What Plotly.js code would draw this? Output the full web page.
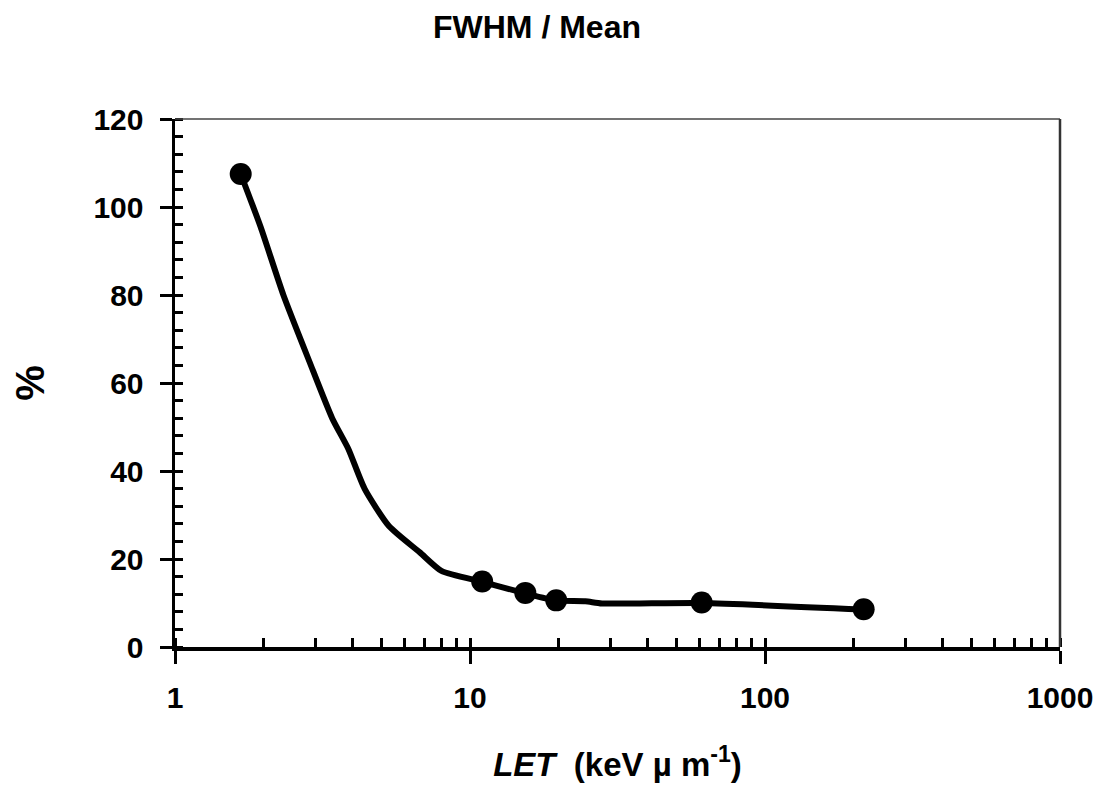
<!DOCTYPE html>
<html>
<head>
<meta charset="utf-8">
<script src="https://cdn.plot.ly/plotly-3.0.1.min.js"></script>
<style>html,body{margin:0;padding:0;background:#fff;}#chart{width:1110px;height:794px;}</style>
</head>
<body>
<div id="chart"></div>
<script>
// Measured points: LET (keV/um) vs FWHM/Mean (%)
const letValues = [1.67, 11.0, 15.4, 19.6, 61, 216];
const fwhmValues = [107.5, 14.9, 12.3, 10.6, 10.1, 8.6];

// Smooth guide curve
const curveLet = [1.67, 1.95, 2.33, 2.85, 3.41, 3.87, 4.39, 5.31, 6.76, 8.0, 11.0, 15.4, 19.5, 24.6, 28, 61, 216];
const curvePct = [107.5, 95.5, 80, 65, 52, 45, 36, 27.5, 21.5, 17.3, 14.8, 12.2, 10.6, 10.4, 9.9, 10.0, 8.5];

const xTickVals = [1, 10, 100, 1000];
const xTickText = ['1', '10', '100', '1000'];
const yTickVals = [0, 20, 40, 60, 80, 100, 120];

const font = 'Liberation Sans, Arial, sans-serif';

const traces = [
  {
    x: curveLet, y: curvePct, mode: 'lines', type: 'scatter',
    line: {color: '#000', width: 6, shape: 'spline', smoothing: 0.6},
    hoverinfo: 'skip', showlegend: false
  },
  {
    x: letValues, y: fwhmValues, mode: 'markers', type: 'scatter',
    marker: {color: '#000', size: 22, symbol: 'circle'},
    showlegend: false
  }
];

const layout = {
  width: 1110, height: 794,
  margin: {l: 175, r: 50, t: 119, b: 147},
  paper_bgcolor: '#fff', plot_bgcolor: '#fff',
  font: {family: font, color: '#000'},
  title: {
    text: '<b>FWHM / Mean</b>',
    font: {family: font, size: 32, color: '#000'},
    x: 537 / 1110, xref: 'container', xanchor: 'center',
    y: 1 - 27 / 794, yref: 'container', yanchor: 'middle'
  },
  xaxis: {
    type: 'log', range: [0, 3],
    tickvals: xTickVals, ticktext: xTickText,
    showgrid: false, zeroline: false,
    showline: true, linecolor: '#000', linewidth: 3.5,
    ticks: 'outside', ticklen: 13, tickwidth: 3, tickcolor: '#000',
    ticklabelstandoff: 8,
    tickfont: {family: font, size: 30, color: '#000', weight: 'bold'},
    minor: {dtick: 'D1', ticks: 'inside', ticklen: 9, tickwidth: 3, tickcolor: '#000', showgrid: false},
    title: {
      text: '<b><i>LET</i>  (keV µ m<sup>-1</sup>)</b>',
      font: {family: font, size: 33, color: '#000'},
      standoff: 41
    }
  },
  yaxis: {
    range: [0, 120],
    tickvals: yTickVals,
    showgrid: false, zeroline: false,
    showline: true, linecolor: '#000', linewidth: 3.5,
    ticks: 'outside', ticklen: 12, tickwidth: 3, tickcolor: '#000',
    ticklabelstandoff: 10,
    tickfont: {family: font, size: 30, color: '#000', weight: 'bold'},
    minor: {dtick: 4, ticks: 'inside', ticklen: 8, tickwidth: 3, tickcolor: '#000', showgrid: false},
    title: {
      text: '<b>%</b>',
      font: {family: font, size: 40, color: '#000'},
      standoff: 37
    }
  },
  shapes: [
    {type: 'line', xref: 'paper', yref: 'paper', x0: 0, x1: 1, y0: 1, y1: 1, line: {color: '#444', width: 1.5}},
    {type: 'line', xref: 'paper', yref: 'paper', x0: 1, x1: 1, y0: 0, y1: 1, line: {color: '#333', width: 2.5}}
  ]
};

Plotly.newPlot('chart', traces, layout, {displayModeBar: false, staticPlot: true});
</script>
</body>
</html>
